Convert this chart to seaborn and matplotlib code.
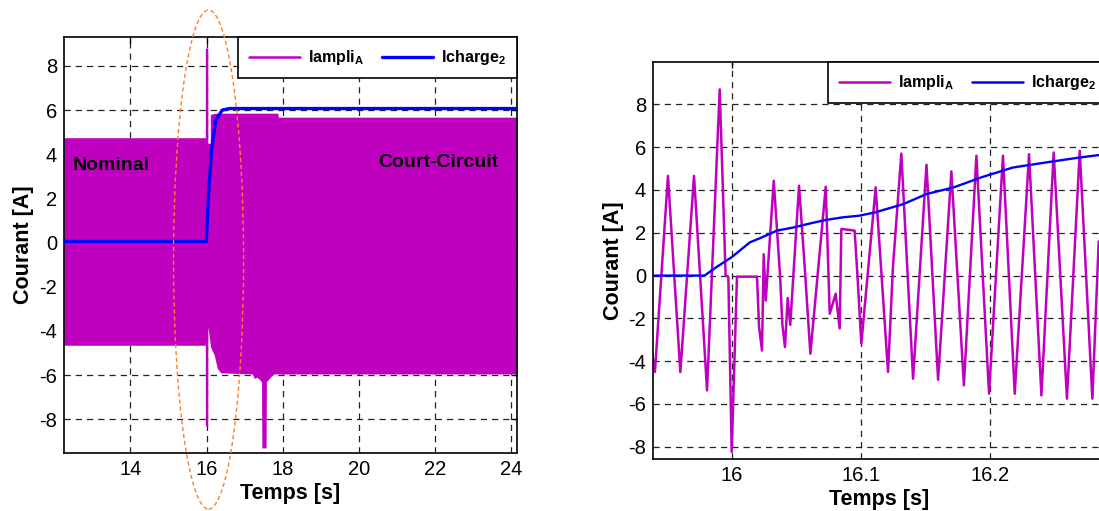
import numpy as np
import pandas as pd
import matplotlib
matplotlib.use('Agg')
import matplotlib.pyplot as plt
from matplotlib.patches import Ellipse
from matplotlib.lines import Line2D
import seaborn as sns

# ---- données ----
# vue globale : enveloppe du courant ampli (signal 50 Hz très dense)
band_t = [12.25, 15.965, 15.966, 16.03, 16.031, 16.095, 16.096, 16.2, 16.28, 16.37,
          17.2, 17.25, 17.33, 17.44, 17.45, 17.50, 17.56, 17.57, 17.75, 17.87, 17.88, 24.15]
band_top = [4.75, 4.75, 8.8, 8.8, 4.5, 4.5, 5.8, 5.85, 5.86, 5.86,
            5.86, 5.86, 5.86, 5.86, 5.86, 5.86, 5.86, 5.86, 5.86, 5.86, 5.68, 5.68]
band_bot = [-4.65, -4.65, -8.3, -8.3, -3.8, -4.6, -4.7, -5.1, -5.7, -5.9,
            -5.95, -6.15, -6.1, -6.3, -9.3, -9.3, -9.3, -6.3, -5.95, -5.95, -5.95, -5.95]

charge_full_t = [12.25, 15.99, 16.06, 16.13, 16.24, 16.41, 16.6, 24.15]
charge_full_v = [0.05, 0.05, 2.5, 4.2, 5.55, 6.0, 6.07, 6.07]

# vue zoomée autour du court-circuit
ampli_t = [15.938, 15.9405, 15.9506, 15.9602, 15.9708, 15.9809, 15.9907, 15.9953,
           15.9974, 16.0000, 16.0041, 16.0196, 16.0204, 16.0212, 16.0235, 16.0248,
           16.0264, 16.0326, 16.0375, 16.0393, 16.0413, 16.0434, 16.0454, 16.0522,
           16.0566, 16.0610, 16.0729, 16.0760, 16.0806, 16.0837, 16.0850, 16.0953,
           16.0975, 16.1005, 16.1116, 16.1212, 16.1250, 16.1315, 16.1406, 16.1510,
           16.1600, 16.1703, 16.1800, 16.1897, 16.1995, 16.2103, 16.2194, 16.2305,
           16.2401, 16.2496, 16.2599, 16.2698, 16.2796, 16.2845]
ampli_v = [-3.5, -4.5, 4.66, -4.51, 4.66, -5.36, 8.7, 0.0,
           -0.05, -8.24, -0.05, -0.05, -1.17, -2.4, -3.5, 1.0,
           -1.17, 4.43, 0.0, -2.3, -3.34, -1.05, -2.3, 4.2,
           0.4, -3.65, 4.15, -1.78, -0.85, -2.47, 2.18, 2.1,
           0.0, -3.18, 4.12, -4.5, 0.39, 5.7, -4.82, 5.18,
           -4.87, 4.87, -5.13, 5.6, -5.52, 5.6, -5.52, 5.67,
           -5.6, 5.75, -5.75, 5.83, -5.75, 1.6]

charge_t = [15.938, 15.979, 15.988, 16.000, 16.014, 16.022, 16.035, 16.048, 16.061,
            16.073, 16.086, 16.099, 16.111, 16.133, 16.151, 16.172, 16.194, 16.218,
            16.244, 16.270, 16.2845]
charge_v = [0.0, 0.0, 0.39, 0.86, 1.55, 1.75, 2.1, 2.25, 2.44,
            2.6, 2.72, 2.8, 2.95, 3.34, 3.81, 4.12, 4.6, 5.05,
            5.29, 5.52, 5.63]

yticks = [-8, -6, -4, -2, 0, 2, 4, 6, 8]
left_xticks = [14, 16, 18, 20, 22, 24]
right_xticks = [16, 16.1, 16.2]
right_xlabels = ['16', '16.1', '16.2']

label_ampli = r'Iampli$_\mathbf{A}$'
label_charge = r'Icharge$_\mathbf{2}$'

MAG = '#BF00BF'
BLUE = '#0000FF'

sns.set_theme(style='white')
plt.rcParams['font.family'] = ['Liberation Sans', 'DejaVu Sans']
plt.rcParams['mathtext.fontset'] = 'custom'
plt.rcParams['mathtext.bf'] = 'Liberation Sans:bold'
plt.rcParams['mathtext.rm'] = 'Liberation Sans'
plt.rcParams['text.color'] = 'black'
plt.rcParams['axes.labelcolor'] = 'black'
plt.rcParams['xtick.color'] = 'black'
plt.rcParams['ytick.color'] = 'black'
plt.rcParams['axes.unicode_minus'] = False

fig = plt.figure(figsize=(10.99, 5.11), dpi=100)
ax1 = fig.add_axes([64 / 1099, 58 / 511, 453 / 1099, 416 / 511])
ax2 = fig.add_axes([653 / 1099, 52 / 511, 452 / 1099, 397 / 511])


def style_axes(ax):
    ax.grid(True, color='#222222', linestyle=(0, (5, 4)), linewidth=0.9)
    ax.set_axisbelow(True)
    for s in ax.spines.values():
        s.set_color('black')
        s.set_linewidth(1.2)
    ax.tick_params(direction='in', length=4, width=1, colors='black',
                   labelsize=14.5, top=True, right=True, pad=5)
    ax.set_facecolor('white')


def style_legend(leg):
    fr = leg.get_frame()
    fr.set_edgecolor('black')
    fr.set_linewidth(1.2)
    fr.set_alpha(1.0)
    fr.set_facecolor('white')
    leg.set_zorder(10)


# ---- panneau gauche ----
ax1.fill_between(band_t, band_bot, band_top, color=MAG, linewidth=0, zorder=2)
df_full = pd.DataFrame({'t': charge_full_t, 'i': charge_full_v})
sns.lineplot(data=df_full, x='t', y='i', ax=ax1, color=BLUE, linewidth=2.4,
             zorder=3, legend=False)
ax1.set_xlim(12.254, 24.15)
ax1.set_ylim(-9.53, 9.31)
ax1.set_xticks(left_xticks)
ax1.set_yticks(yticks)
style_axes(ax1)
ax1.set_xlabel('Temps [s]', fontsize=15.5, fontweight='bold', labelpad=3)
ax1.set_ylabel('Courant [A]', fontsize=15.5, fontweight='bold', labelpad=4)
ax1.text(12.49, 3.5, 'Nominal', fontsize=14, fontweight='bold', ha='left', va='center', zorder=5)
ax1.text(20.51, 3.63, 'Court-Circuit', fontsize=14, fontweight='bold', ha='left', va='center', zorder=5)
ell = Ellipse((16.05, -0.77), width=1.84, height=22.6, fill=False,
              edgecolor='#FF7F27', linestyle=(0, (3, 2)), linewidth=1.0,
              clip_on=False, zorder=6)
ax1.add_patch(ell)

handles = [Line2D([0], [0], color=MAG, lw=1.8), Line2D([0], [0], color=BLUE, lw=2.4)]
leg1 = ax1.legend(handles, [label_ampli, label_charge], loc='upper right',
                  bbox_to_anchor=(1.0, 1.0), ncol=2, frameon=True, fancybox=False,
                  framealpha=1.0, borderaxespad=0, handlelength=3.2, handletextpad=0.5,
                  columnspacing=1.1, borderpad=0.7, prop={'weight': 'bold', 'size': 11.5})
style_legend(leg1)

# ---- panneau droit ----
df_a = pd.DataFrame({'t': ampli_t, 'i': ampli_v})
df_c = pd.DataFrame({'t': charge_t, 'i': charge_v})
sns.lineplot(data=df_a, x='t', y='i', ax=ax2, color=MAG, linewidth=1.8,
             sort=False, estimator=None, zorder=2, legend=False)
sns.lineplot(data=df_c, x='t', y='i', ax=ax2, color=BLUE, linewidth=1.7,
             sort=False, estimator=None, zorder=3, legend=False)
ax2.set_xlim(15.939, 15.939 + 452 / 1290)
ax2.set_ylim(-8.57, 9.98)
ax2.set_xticks(right_xticks)
ax2.set_xticklabels(right_xlabels)
ax2.set_yticks(yticks)
style_axes(ax2)
ax2.set_xlabel('Temps [s]', fontsize=15.5, fontweight='bold', labelpad=3)
ax2.set_ylabel('Courant [A]', fontsize=15.5, fontweight='bold', labelpad=3)

handles2 = [Line2D([0], [0], color=MAG, lw=1.8), Line2D([0], [0], color=BLUE, lw=1.8)]
leg2 = ax2.legend(handles2, [label_ampli, label_charge], loc='upper left',
                  bbox_to_anchor=((828 - 653) / 452, 1.0), ncol=2, frameon=True,
                  fancybox=False, framealpha=1.0, borderaxespad=0, handlelength=3.2,
                  handletextpad=0.5, columnspacing=1.1, borderpad=0.7,
                  prop={'weight': 'bold', 'size': 11.5})
style_legend(leg2)

fig.savefig('out.png', dpi=100, facecolor='white')
